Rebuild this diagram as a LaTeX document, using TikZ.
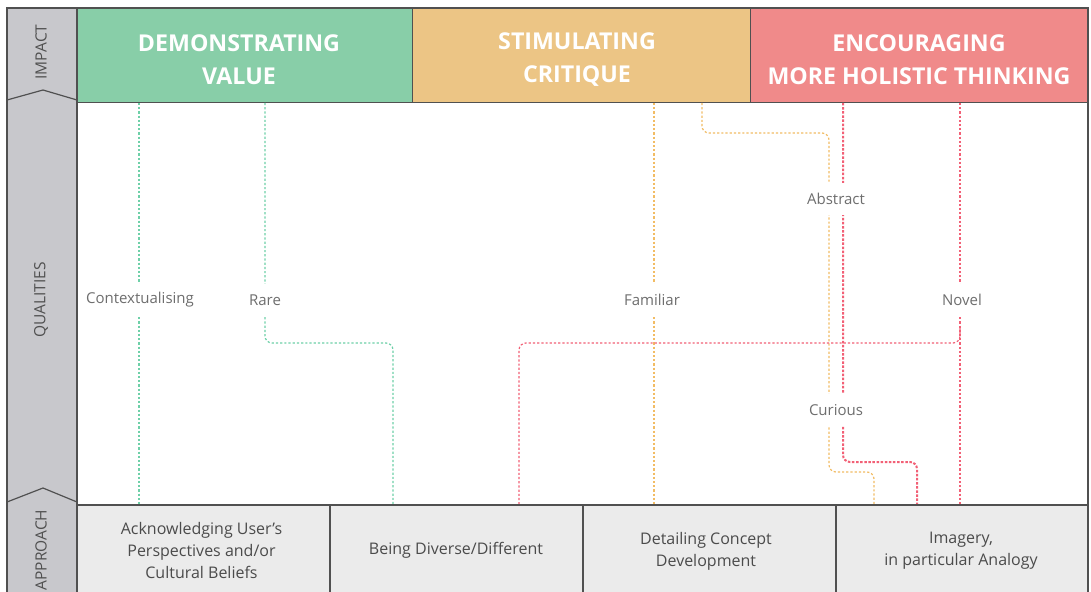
\documentclass[tikz,border=0pt]{standalone}
\usepackage{fontspec}
\setmainfont{Open Sans}
\definecolor{hgreen}{RGB}{136,206,168}
\definecolor{horange}{RGB}{236,197,133}
\definecolor{hred}{RGB}{240,138,138}
\definecolor{tabgray}{RGB}{200,200,204}
\definecolor{cellgray}{RGB}{235,235,235}
\definecolor{framegray}{RGB}{80,80,80}
\definecolor{lgreen}{RGB}{110,208,168}
\definecolor{lorange}{RGB}{242,188,100}
\definecolor{lred}{RGB}{242,96,118}
\definecolor{labelgray}{RGB}{110,110,110}
\definecolor{celltext}{RGB}{75,75,75}
\tikzset{
  headbox/.style={rectangle, draw=framegray, line width=1pt, minimum height=95pt, inner sep=0pt},
  headtext/.style={text=white, font=\fontsize{23.2}{33}\selectfont\bfseries, align=center, inner sep=0pt},
  tabtext/.style={rotate=90, text=framegray, font=\fontsize{15.5}{18}\selectfont, inner sep=0pt},
  cellbox/.style={rectangle, fill=cellgray, draw=framegray, line width=1.2pt, minimum height=90pt, inner sep=0pt},
  celltxt/.style={text=celltext, font=\fontsize{16}{22}\selectfont, align=center, inner sep=0pt},
  quality/.style={fill=white, text=labelgray, font=\fontsize{15}{18}\selectfont, inner xsep=4pt, inner ysep=0pt, minimum height=32pt},
  link/.style={line width=1.2pt, dash pattern=on 2.2pt off 2pt, rounded corners=7pt},
  glink/.style={link, draw=lgreen},
  olink/.style={link, draw=lorange},
  rlink/.style={link, draw=lred},
}
\begin{document}
\begin{tikzpicture}[x=1pt,y=-1pt]
\useasboundingbox (0,0) rectangle (1091,591);
\begin{scope}
\clip (0,0) rectangle (1091,591);
\fill[white] (0,0) rectangle (1091,591);

% left tab column
\fill[tabgray] (7,8) rectangle (77,600);
\draw[framegray, line width=1.2pt] (7,100) -- (43,90) -- (77,100);
\draw[framegray, line width=1.2pt] (7,502) -- (43,488) -- (77,502);
\node[tabtext] (tImpact) at (41,52) {IMPACT};
\node[tabtext] (tQual) at (41,300) {QUALITIES};
\node[tabtext] (tAppr) at (41,550) {APPROACH};

% impact headers
\node[headbox, fill=hgreen, minimum width=335pt] (hValue) at (244.5,55.5) {};
\node[headbox, fill=horange, minimum width=338pt] (hCrit) at (581,55.5) {};
\node[headbox, fill=hred, minimum width=338pt] (hHol) at (919,55.5) {};
\node[headtext] (tValue) at (239,59.5) {DEMONSTRATING\\VALUE};
\node[headtext] (tCrit) at (577,59.5) {STIMULATING\\CRITIQUE};
\node[headtext] (tHol) at (919,59.5) {ENCOURAGING\\MORE HOLISTIC THINKING};

% approach cells
\node[cellbox, minimum width=253pt] (aUser) at (203.5,550) {};
\node[cellbox, minimum width=253pt] (aDiv) at (456.5,550) {};
\node[cellbox, minimum width=253pt] (aDet) at (709.5,550) {};
\node[cellbox, minimum width=252pt] (aImg) at (962,550) {};
\node[celltxt] at (201.5,550) {Acknowledging User's\\Perspectives and/or\\Cultural Beliefs};
\node[celltxt] at (456,550) {Being Diverse/Different};
\node[celltxt] at (706,551) {Detailing Concept\\Development};
\node[celltxt] at (961,551) {Imagery,\\in particular Analogy};

% connector end points
\coordinate (gA) at (139,103);  \coordinate (gAe) at (139,505);
\coordinate (gB) at (265,103);  \coordinate (gBe) at (393,505);
\coordinate (oA) at (654,103);  \coordinate (oAe) at (654,505);
\coordinate (oB) at (702,103);  \coordinate (oBe) at (874,505);
\coordinate (rA) at (843,103);  \coordinate (rAe) at (917,505);
\coordinate (rB) at (960,103);  \coordinate (rBe) at (960,505);
\coordinate (rC) at (960,328);  \coordinate (rCe) at (519,505);

% connectors
\draw[glink] (gA) -- (gAe);
\draw[glink] (gB) |- (393,343) -- (gBe);
\draw[olink] (oA) -- (oAe);
\draw[olink] (oB) |- (829,133) |- (874,472) -- (oBe);
\draw[rlink, line width=2pt, dash pattern=on 2.5pt off 1.6pt] (rA) |- (917,462) -- (rAe);
\draw[rlink] (rB) -- (rBe);
\draw[rlink] (rC) |- (519,343) -- (rCe);

% qualities
\node[quality] (qCtx) at (140,300) {Contextualising};
\node[quality] (qRare) at (265,300) {Rare};
\node[quality] (qFam) at (652,300) {Familiar};
\node[quality] (qNov) at (962,300) {Novel};
\node[quality] (qAbs) at (836,199) {Abstract};
\node[quality] (qCur) at (836,410) {Curious};

% frame
\draw[framegray, line width=2pt] (7,600) -- (7,8) -- (1088,8) -- (1088,600);
\draw[framegray, line width=1.2pt] (77,8) -- (77,600);
\draw[framegray, line width=1.2pt] (77,505) -- (1088,505);
\end{scope}
\end{tikzpicture}
\end{document}
